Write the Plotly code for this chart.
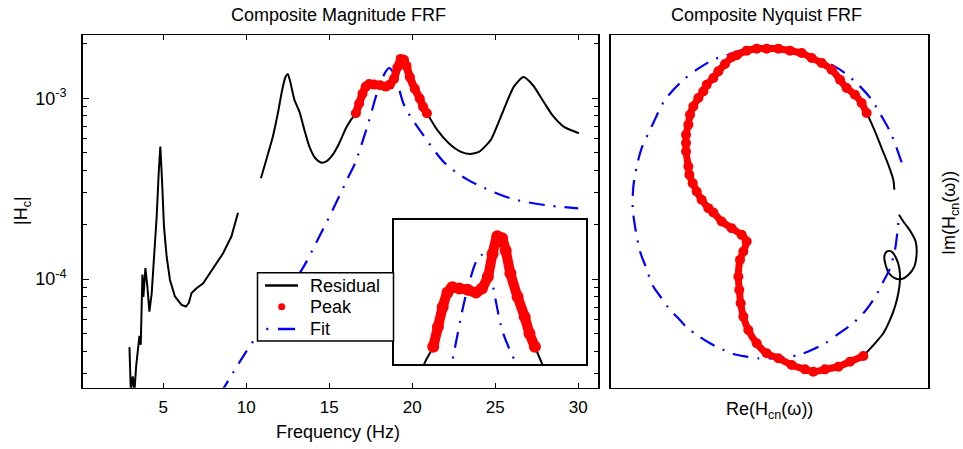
import plotly.graph_objects as go

# ---------------- data ----------------
# Residual, low-frequency segment (Hz, |Hc|)
freq_res_lo = [2.96, 3.04, 3.16, 3.26, 3.36, 3.46, 3.56, 3.64, 3.74, 3.80, 3.92, 4.04,
               4.16, 4.30, 4.44, 4.60, 4.72, 4.82, 4.92, 5.04, 5.20, 5.40, 5.70, 6.10,
               6.36, 6.54, 6.70, 7.00, 7.40, 8.00, 8.60, 9.10, 9.40, 9.50]
mag_res_lo = [4.21e-5, 2.4e-5, 2.9e-5, 2.4e-5, 3.29e-5, 4.07e-5, 4.86e-5, 4.34e-5, 1.06e-4,
              7.98e-5, 1.15e-4, 9.06e-5, 6.62e-5, 8.38e-5, 1.28e-4, 2.22e-4, 3.85e-4,
              5.41e-4, 3.54e-4, 1.95e-4, 1.33e-4, 9.9e-5, 8.02e-5, 7.21e-5, 7.06e-5,
              7.40e-5, 8.38e-5, 8.91e-5, 9.5e-5, 1.15e-4, 1.39e-4, 1.72e-4, 2.13e-4, 2.33e-4]

# Residual, upper segment before and after the peak band
freq_res_a = [10.88, 11.2, 11.6, 11.9, 12.16, 12.36, 12.5, 12.64, 12.9, 13.2, 13.5, 13.8,
              14.16, 14.5, 14.8, 15.2, 15.6, 16.0, 16.3]
mag_res_a = [3.61e-4, 4.56e-4, 6.14e-4, 8.26e-4, 1.11e-3, 1.31e-3, 1.36e-3, 1.24e-3, 9.8e-4,
             8.43e-4, 6.68e-4, 5.41e-4, 4.66e-4, 4.41e-4, 4.46e-4, 4.86e-4, 5.64e-4, 6.82e-4,
             7.6e-4]
freq_res_b = [21.5, 22.2, 22.9, 23.47, 24.04, 24.73, 25.42, 26.12, 26.7, 27.27, 27.97, 28.43,
              29.12, 30.04]
mag_res_b = [6.68e-4, 5.64e-4, 5.07e-4, 4.92e-4, 5.07e-4, 5.89e-4, 8.26e-4, 1.16e-3, 1.31e-3,
             1.18e-3, 9.38e-4, 8.09e-4, 6.97e-4, 6.41e-4]

# Peak band (red)
freq_peak = [16.6, 16.8, 17.0, 17.2, 17.4, 17.7, 18.05, 18.4, 18.65, 18.9, 19.1, 19.3, 19.5,
             19.65, 19.85, 20.15, 20.45, 20.65, 20.88]
mag_peak = [8.26e-4, 9.35e-4, 1.06e-3, 1.16e-3, 1.20e-3, 1.19e-3, 1.18e-3, 1.16e-3, 1.19e-3,
            1.28e-3, 1.48e-3, 1.65e-3, 1.63e-3, 1.51e-3, 1.31e-3, 1.13e-3, 9.96e-4, 8.97e-4,
            8.26e-4]

# Fit (blue dash-dot)
freq_fit = [8.4, 9.8, 10.6, 13.4, 14.4, 15.2, 16.16, 16.55, 17.35, 17.93, 18.39, 18.62, 18.97,
            19.54, 20.58, 21.97, 23.35, 25.9, 27.97, 30.0]
mag_fit = [2.3e-5, 3.73e-5, 4.82e-5, 1.15e-4, 1.72e-4, 2.41e-4, 3.69e-4, 4.37e-4, 7.28e-4,
           1.11e-3, 1.40e-3, 1.47e-3, 1.32e-3, 9.0e-4, 6.41e-4, 4.37e-4, 3.54e-4, 2.8e-4,
           2.57e-4, 2.46e-4]

# Nyquist: fitted circle (arbitrary units)
re_fit = [0.005, -0.010, -0.030, -0.055, -0.085, -0.120, -0.165, -0.220, -0.275, -0.335, -0.405,
          -0.460, -0.520, -0.560, -0.610, -0.655, -0.705, -0.725, -0.745, -0.775, -0.790, -0.800,
          -0.802, -0.795, -0.780, -0.765, -0.740, -0.715, -0.690, -0.665, -0.640, -0.605, -0.570,
          -0.540, -0.500, -0.460, -0.425, -0.385, -0.345, -0.305, -0.265, -0.225, -0.185, -0.145,
          -0.110, -0.075, -0.050, -0.030, -0.015, -0.007, -0.003]
im_fit = [0.082, 0.125, 0.175, 0.220, 0.270, 0.310, 0.350, 0.383, 0.405, 0.420, 0.425, 0.422,
          0.403, 0.390, 0.360, 0.325, 0.270, 0.233, 0.190, 0.125, 0.070, 0.010, -0.055, -0.110,
          -0.185, -0.225, -0.290, -0.325, -0.360, -0.385, -0.412, -0.438, -0.460, -0.475, -0.492,
          -0.500, -0.505, -0.505, -0.502, -0.495, -0.480, -0.460, -0.432, -0.403, -0.370, -0.322,
          -0.275, -0.235, -0.180, -0.120, -0.075]

# Nyquist: peak band (red)
re_peak = [-0.100, -0.115, -0.135, -0.160, -0.180, -0.205, -0.235, -0.265, -0.295, -0.330,
           -0.365, -0.400, -0.430, -0.460, -0.490, -0.505, -0.525, -0.545, -0.560, -0.580,
           -0.590, -0.605, -0.620, -0.630, -0.635, -0.642, -0.642, -0.642, -0.635, -0.632,
           -0.622, -0.610, -0.595, -0.575, -0.560, -0.535, -0.505, -0.475, -0.460, -0.470,
           -0.480, -0.485, -0.482, -0.478, -0.470, -0.455, -0.430, -0.400, -0.365, -0.325,
           -0.285, -0.260, -0.225, -0.185, -0.150, -0.110]
im_peak = [0.230, 0.260, 0.285, 0.305, 0.330, 0.360, 0.380, 0.395, 0.410, 0.417, 0.423, 0.423,
           0.423, 0.417, 0.403, 0.397, 0.377, 0.355, 0.335, 0.315, 0.295, 0.275, 0.250, 0.225,
           0.195, 0.165, 0.140, 0.115, 0.070, 0.045, 0.020, -0.005, -0.030, -0.055, -0.068,
           -0.095, -0.115, -0.135, -0.155, -0.185, -0.210, -0.260, -0.300, -0.340, -0.380,
           -0.420, -0.460, -0.490, -0.505, -0.525, -0.538, -0.545, -0.538, -0.530, -0.515,
           -0.498]

# Nyquist: residual tails (black)
re_res_a = [-0.100, -0.095, -0.075, -0.055, -0.035, -0.020, -0.017]
im_res_a = [0.230, 0.220, 0.175, 0.125, 0.075, 0.030, 0.000]
re_res_b = [-0.110, -0.075, -0.050, -0.030, -0.015, -0.005, 0.000, -0.002, -0.010, -0.025,
            -0.040, -0.047, -0.043, -0.033, -0.015, 0.005, 0.025, 0.043, 0.050, 0.047, 0.035,
            0.023, 0.010, -0.003]
im_res_b = [-0.498, -0.460, -0.430, -0.390, -0.350, -0.310, -0.270, -0.235, -0.208, -0.185,
            -0.185, -0.200, -0.225, -0.250, -0.265, -0.267, -0.255, -0.230, -0.190, -0.155,
            -0.130, -0.112, -0.095, -0.075]

legend_names = ["Residual", "Peak", "Fit"]
titles = ["Composite Magnitude FRF", "Composite Nyquist FRF"]
x_ticks = [5, 10, 15, 20, 25, 30]
y_ticks = [1e-4, 1e-3]
y_ticktext = ["10<sup>-4</sup>", "10<sup>-3</sup>"]

# ---------------- styling ----------------
FONT = "Arial, 'Liberation Sans', Helvetica, sans-serif"
BLUE = "#0000ff"
RED = "#ff0000"
DASHDOT = "16px,9px,2px,9px"
W, H = 963, 449


def px(x):
    return x / W


def py(y):
    return (H - y) / H


freq_res_hi = freq_res_a + freq_peak + freq_res_b
mag_res_hi = mag_res_a + mag_peak + mag_res_b

fig = go.Figure()


def add_mag(xa, ya, pk_size, pk_width):
    fig.add_trace(go.Scatter(x=freq_res_lo, y=mag_res_lo, mode="lines", xaxis=xa, yaxis=ya,
                             name=legend_names[0], line=dict(color="black", width=2),
                             showlegend=False, hoverinfo="skip"))
    fig.add_trace(go.Scatter(x=freq_res_hi, y=mag_res_hi, mode="lines", xaxis=xa, yaxis=ya,
                             name=legend_names[0],
                             line=dict(color="black", width=2, shape="spline", smoothing=0.6),
                             showlegend=False, hoverinfo="skip"))
    fig.add_trace(go.Scatter(x=freq_fit, y=mag_fit, mode="lines", xaxis=xa, yaxis=ya,
                             name=legend_names[2],
                             line=dict(color=BLUE, width=2.2, dash=DASHDOT, shape="spline",
                                       smoothing=0.8),
                             showlegend=False, hoverinfo="skip"))
    fig.add_trace(go.Scatter(x=freq_peak, y=mag_peak, mode="lines+markers", xaxis=xa, yaxis=ya,
                             name=legend_names[1],
                             line=dict(color=RED, width=pk_width, shape="spline", smoothing=0.5),
                             marker=dict(color=RED, size=pk_size),
                             showlegend=False, hoverinfo="skip"))


add_mag("x", "y", 10, 8)
add_mag("x3", "y3", 12, 10)

# Nyquist
for rx, ry in [(re_res_a, im_res_a), (re_res_b, im_res_b)]:
    fig.add_trace(go.Scatter(x=rx, y=ry, mode="lines", xaxis="x2", yaxis="y2",
                             line=dict(color="black", width=2, shape="spline", smoothing=0.8),
                             showlegend=False, hoverinfo="skip"))
fig.add_trace(go.Scatter(x=re_fit, y=im_fit, mode="lines", xaxis="x2", yaxis="y2",
                         line=dict(color=BLUE, width=2.2, dash=DASHDOT, shape="spline",
                                   smoothing=0.8),
                         showlegend=False, hoverinfo="skip"))
fig.add_trace(go.Scatter(x=re_peak, y=im_peak, mode="lines+markers", xaxis="x2", yaxis="y2",
                         line=dict(color=RED, width=7, shape="spline", smoothing=0.6),
                         marker=dict(color=RED, size=10),
                         showlegend=False, hoverinfo="skip"))

ydom = [py(387.7), py(35.3)]
frame = dict(showline=True, linecolor="black", linewidth=1.5, mirror=True,
             showgrid=False, zeroline=False)

fig.update_layout(
    width=W, height=H,
    margin=dict(l=0, r=0, t=0, b=0),
    paper_bgcolor="white", plot_bgcolor="white",
    font=dict(family=FONT, size=17, color="black"),
    showlegend=False,
    xaxis=dict(domain=[px(82.5), px(598)], range=[0.13, 31.19], anchor="y",
               tickmode="array", tickvals=x_ticks, ticks="inside", ticklen=5,
               tickcolor="black", tickwidth=1, ticklabelstandoff=3,
               tickfont=dict(size=17), **{**frame, "mirror": "ticks"}),
    yaxis=dict(domain=ydom, type="log", range=[-4.6, -2.652], anchor="x",
               tickmode="array", tickvals=y_ticks, ticktext=y_ticktext,
               ticks="inside", ticklen=6, tickcolor="black", tickwidth=1,
               ticklabelstandoff=11, tickfont=dict(size=18),
               minor=dict(ticks="inside", ticklen=4, dtick="D1", tickcolor="black",
                          tickwidth=1, showgrid=False),
               **{**frame, "mirror": "ticks"}),
    xaxis2=dict(domain=[px(610.7), px(928.3)], range=[-0.868, 0.085], anchor="y2",
                showticklabels=False, ticks="", **frame),
    yaxis2=dict(domain=ydom, range=[-0.593, 0.463], anchor="x2",
                showticklabels=False, ticks="", **frame),
    xaxis3=dict(domain=[px(394), px(586)], range=[14.95, 23.03], anchor="y3",
                showticklabels=False, ticks="", **{**frame, "linewidth": 2}),
    yaxis3=dict(domain=[py(364), py(220)], type="log",
                range=[-3.13, -2.738], anchor="x3",
                showticklabels=False, ticks="", **{**frame, "linewidth": 2}),
)

# ---- legend box (drawn as shapes + text) ----
shapes = [
    dict(type="rect", x0=px(257.5), x1=px(393.5), y0=py(341), y1=py(272.7),
         line=dict(color="black", width=1.5), fillcolor="white"),
    dict(type="line", x0=px(265), x1=px(298), y0=py(285.5), y1=py(285.5),
         line=dict(color="black", width=2.5)),
    dict(type="circle", x0=px(278.2), x1=px(285.2), y0=py(310.2), y1=py(303.2),
         line=dict(width=0), fillcolor=RED),
    dict(type="line", x0=px(266.3), x1=px(268.3), y0=py(329), y1=py(329),
         line=dict(color=BLUE, width=2.5)),
    dict(type="line", x0=px(278), x1=px(295), y0=py(329), y1=py(329),
         line=dict(color=BLUE, width=2.5)),
]
for s in shapes:
    fig.add_shape(xref="paper", yref="paper", layer="above", **s)

ann = [
    dict(text=titles[0], x=px(338), y=py(15), font=dict(size=18)),
    dict(text=titles[1], x=px(766), y=py(15), font=dict(size=18)),
    dict(text="Frequency (Hz)", x=px(338), y=py(432), font=dict(size=18)),
    dict(text="Re(H<sub>cn</sub>(\u03c9))", x=px(769.7), y=py(410), font=dict(size=18)),
    dict(text="|H<sub>c</sub>|", x=px(22), y=py(211), font=dict(size=18), textangle=-90),
    dict(text="Im(H<sub>cn</sub>(\u03c9))", x=px(950), y=py(213), font=dict(size=18),
         textangle=-90),
]
for a in ann:
    fig.add_annotation(xref="paper", yref="paper", showarrow=False,
                       xanchor="center", yanchor="middle", **a)
for name, yy in zip(legend_names, [285.5, 307, 328.5]):
    fig.add_annotation(xref="paper", yref="paper", showarrow=False, text=name,
                       x=px(308), y=py(yy), xanchor="left", yanchor="middle",
                       font=dict(size=18))

fig.write_html("out.html",
               config={"displayModeBar": False, "staticPlot": True},
               post_script="document.body.style.margin='0';"
                           "document.body.style.overflow='hidden';")
